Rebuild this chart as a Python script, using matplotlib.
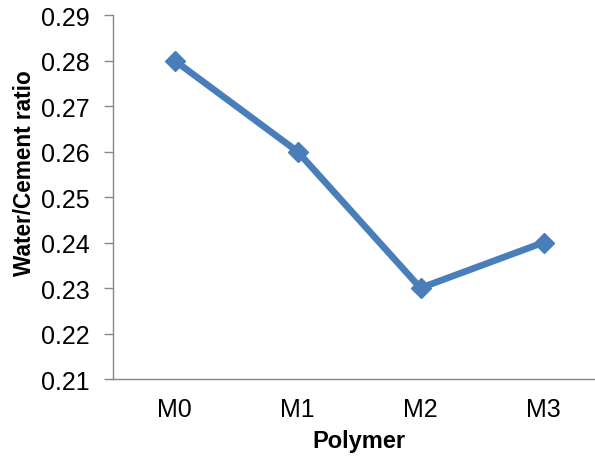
import matplotlib.pyplot as plt

plt.rcParams['font.family'] = ['Liberation Sans', 'DejaVu Sans']

polymers = ['M0', 'M1', 'M2', 'M3']
wc_ratio = [0.28, 0.26, 0.23, 0.24]
y_ticks = [0.21, 0.22, 0.23, 0.24, 0.25, 0.26, 0.27, 0.28, 0.29]

fig = plt.figure(figsize=(5.95, 4.64), dpi=100)
ax = fig.add_axes([113/595, 1 - 380/464, 492/595, 364/464])

x = range(len(polymers))
ax.plot(x, wc_ratio, color='#4a7ebb', linewidth=4.8, marker='D', markersize=10,
        markerfacecolor='#4a7ebb', markeredgecolor='#4a7ebb', solid_capstyle='round')

ax.set_xlim(-0.5, 3.5)
ax.set_ylim(0.21, 0.29)
ax.set_yticks(y_ticks)
ax.set_yticklabels([f'{v:.2f}' for v in y_ticks])
ax.set_xticks(list(x))
ax.set_xticklabels(polymers)

for side in ['top', 'right']:
    ax.spines[side].set_visible(False)
for side in ['left', 'bottom']:
    ax.spines[side].set_color('#888888')
    ax.spines[side].set_linewidth(1.0)

ax.tick_params(axis='y', length=6.5, width=1, color='#888888', labelsize=18, pad=10)
ax.tick_params(axis='x', length=0, labelsize=18, pad=13)

ax.set_xlabel('Polymer', fontsize=17, fontweight='bold', labelpad=6)
ax.set_ylabel('Water/Cement ratio', fontsize=16.3, fontweight='bold')
ax.yaxis.set_label_coords(-0.157, 0.567)

fig.savefig('out.png', dpi=100)
